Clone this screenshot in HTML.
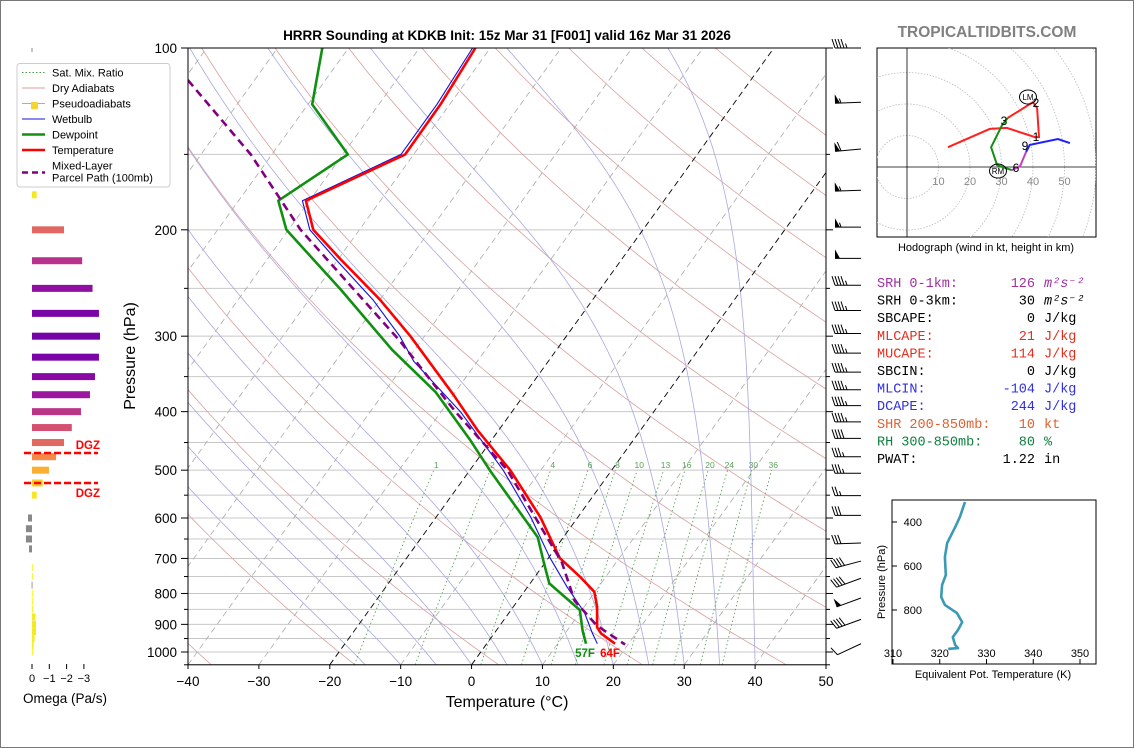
<!DOCTYPE html>
<html><head><meta charset="utf-8">
<style>
html,body{margin:0;padding:0;background:#fff;}
body{width:1134px;height:748px;overflow:hidden;position:relative;}
svg{position:absolute;left:0;top:0;font-family:"Liberation Sans","DejaVu Sans",sans-serif;}
.mono{font-family:"Liberation Mono","DejaVu Sans Mono",monospace;font-size:13.5px;}
</style></head>
<body>
<svg id="root" width="1134" height="748" viewBox="0 0 1134 748">
<rect x="0.5" y="0.5" width="1133" height="747" fill="#fff" stroke="#777"/>
<defs>
<clipPath id="mainclip"><rect x="188" y="48" width="638" height="616.8"/></clipPath>
<clipPath id="hodoclip"><rect x="877" y="48" width="219" height="189"/></clipPath>
<clipPath id="thclip"><rect x="892" y="500" width="204" height="164"/></clipPath>
</defs>
<text x="507" y="40" text-anchor="middle" font-size="13.5" font-weight="bold">HRRR Sounding at KDKB Init: 15z Mar 31 [F001] valid 16z Mar 31 2026</text>
<text x="987" y="37" text-anchor="middle" font-size="15.5" font-weight="bold" fill="#808080">TROPICALTIDBITS.COM</text>
<g id="omega"></g>
<g id="main"></g>
<g id="legend"></g>
<g id="hodo"></g>
<g id="params"></g>
<g id="theta"></g>
</svg>
<script>
// ===== data =====
const tempP=[100,124,150,179,200,224,261,300,375,430,500,598,699,751,795,841,910,932,969];
const tempT=[-62.1,-61.3,-61.2,-70.5,-66.5,-59.6,-50,-42,-30,-22.9,-14.3,-5.3,1.6,6.4,9.9,11.8,13.9,15.1,18.1];
const dewP=[100,124,150,179,200,251,316,371,445,500,646,711,770,852,922,969];
const dewT=[-83.7,-79.4,-69.3,-74.4,-70.3,-56.6,-43.2,-32.8,-23.1,-17.2,-3.6,-0.2,2.7,9.7,12.2,14.0];
const wbP=[100,124,150,179,200,224,261,300,330,400,500,600,697,781,860,930,969];
const wbT=[-62.5,-61.8,-61.8,-71,-67,-60.3,-51,-43.5,-39,-27.3,-15.3,-6.5,0.1,5.6,10.6,13.8,15.6];
const parP=[113,150,200,305,400,500,627,710,822,903,972];
const parT=[-99.4,-83,-68.3,-43.1,-28,-14.7,-3.75,2.3,8.0,13.6,19.6];
const mixW=[1,2,4,6,8,10,13,16,20,24,30,36];
const isoT=[-120,-110,-100,-90,-80,-70,-60,-50,-40,-30,-20,-10,0,10,20,30,40,50];
const dryT0=[-40,-20,0,20,40,60,80,100,120,140,160,180,200];
const moistT0=[-15,-10,-5,0,5,10,15,20,25,30,35,40];
const xTicks=[-40,-30,-20,-10,0,10,20,30,40,50];
const yTicks=[100,200,300,400,500,600,700,800,900,1000];
const barbP=[100,123,147,172,198,223,247,272,297,320,344,368,391,416,443,475,506,551,594,660,707,755,814,883,969];
const barbSpd=[45,55,60,55,55,50,45,45,45,45,45,45,45,45,40,35,35,25,30,30,40,40,50,40,10];
const barbDir=[270,268,265,268,270,270,270,270,270,270,270,270,270,270,270,270,270,270,270,268,255,250,250,250,245];
const omegaP=[125,175,200,225,250,275,300,325,350,375,400,425,450,475,500,525,550,600,625,650,675,725,750,775,800,825,850,875,900,925,950,975,1000];
const omegaV=[-0.3,-0.27,-1.85,-2.9,-3.5,-3.87,-3.93,-3.87,-3.64,-3.35,-2.83,-2.3,-1.85,-1.39,-0.98,-0.62,-0.27,0.23,0.35,0.35,0.17,-0.03,-0.02,0.02,-0.02,-0.03,-0.05,-0.2,-0.23,-0.23,-0.15,-0.1,-0.05];
const hodoRedU=[13,26.3,31.7,40.6,41.9,41.3,40,32];
const hodoRedV=[6.3,12.1,12.4,9.5,9.5,18.7,20.6,15.6];
const hodoGreenU=[32,30.2,26.7,28.6,33.3];
const hodoGreenV=[15.6,13.3,6.3,0.6,-1];
const hodoPurpU=[33.3,35.9,37.8];
const hodoPurpV=[-1,0.3,4.8];
const hodoBlueU=[37.8,39,47.9,51.7];
const hodoBlueV=[4.8,7,8.9,7.6];
const thetaP=[309,377,423,495,559,641,686,741,777,814,855,891,923,959,973,977];
const thetaE=[325.4,324.3,323.3,321.6,321.1,321.3,320.5,320.3,321.1,323.7,324.8,323.9,322.8,323.3,323.9,321.8];
const thXTicks=[310,320,330,340,350];
const thYTicks=[400,600,800];

// ===== helpers =====
const NS="http://www.w3.org/2000/svg";
function mk(tag,attrs,parent){const e=document.createElementNS(NS,tag);for(const k in attrs)e.setAttribute(k,attrs[k]);parent.appendChild(e);return e;}
function Y(p){return 48+604*Math.log10(p/100);}
function X(T,p){return 188+(T+40)*7.089+(664.8-Y(p))*0.72;}
function pts(a){return a.map(q=>q[0].toFixed(1)+','+q[1].toFixed(1)).join(' ');}

const main=document.getElementById('main');
const clipG=mk('g',{'clip-path':'url(#mainclip)'},main);



for(let p=100;p<=1050;p+=50){
  const l=mk('line',{x1:188,x2:826,y1:Y(p),y2:Y(p),stroke:'#c8c8c8','stroke-width':1},clipG);
  
  
}
dryT0.forEach(t0=>{
  const th=t0+273.15;
  const a=[];for(let p=1050;p>=100;p-=10){a.push([X(th*Math.pow(p/1000,0.286)-273.15,p),Y(p)]);}
  const l=mk('polyline',{points:pts(a),fill:'none',stroke:'#d9a0a0','stroke-width':0.8},clipG);
  
  
});
function es(Tc){return 6.112*Math.exp(17.67*Tc/(Tc+243.5));}
moistT0.forEach(t0=>{
  let T=t0+273.15;const a=[];
  for(let p=1050;p>=100;p-=2){
    a.push([X(T-273.15,p),Y(p)]);
    const e=es(T-273.15);const rs=0.622*e/(p-e);
    const dTdp=(287*T+2.501e6*rs)/(p*(1005+2.501e6*2.501e6*rs*0.622/(287*T*T)));
    T-=dTdp*2;
  }
  const l=mk('polyline',{points:pts(a),fill:'none',stroke:'#a8a8e0','stroke-width':0.8},clipG);
  
  
});
isoT.forEach(t=>{
  const blk=(t===0||t===-20);
  const l=mk('line',{x1:X(t,1050),y1:Y(1050),x2:X(t,100),y2:Y(100),stroke:blk?'#000':'#aaa','stroke-width':blk?0.9:0.8,'stroke-dasharray':'6,4'},clipG);
  
  
});
function tdFromW(w,p){const e=w*p/(622+w);const L=Math.log(e/6.112);return 243.5*L/(17.67-L);}
mixW.forEach(w=>{
  const a=[];for(let p=1050;p>=500;p-=10)a.push([X(tdFromW(w,p),p),Y(p)]);
  const l=mk('polyline',{points:pts(a),fill:'none',stroke:'#4a9a4a','stroke-width':0.8,'stroke-dasharray':'1.5,2.5'},clipG);
  
  
  const t=mk('text',{x:X(tdFromW(w,489),489),y:468,'font-size':8.5,fill:'#5aa05a','text-anchor':'middle'},clipG);
  t.textContent=w;
  
  
});
function prof(P,T,color,w,dash,name){
  const a=P.map((p,i)=>[X(T[i],p),Y(p)]);
  const at={points:pts(a),fill:'none',stroke:color,'stroke-width':w,'stroke-linejoin':'round'};
  if(dash)at['stroke-dasharray']=dash;
  const l=mk('polyline',at,clipG);
  
  
}
prof(wbP,wbT,'#1010e0',1.1,null,'wetbulb-line');
prof(dewP,dewT,'#109010',2.6,null,'dewpoint-line');
prof(tempP,tempT,'#ff0000',2.6,null,'temperature-line');
prof(parP,parT,'#800080',2.6,'8,5','parcel-path-line');
const sl1=mk('text',{x:585,y:657,'font-size':11.5,'font-weight':'bold',fill:'#109010','text-anchor':'middle'},main);
sl1.textContent='57F';


const sl2=mk('text',{x:610,y:657,'font-size':11.5,'font-weight':'bold',fill:'#ff0000','text-anchor':'middle'},main);
sl2.textContent='64F';



const fr=mk('rect',{x:188,y:48,width:638,height:616.8,fill:'none',stroke:'#000','stroke-width':1},main);


xTicks.forEach(t=>{
  const x=188+(t+40)*7.089;
  const l=mk('line',{x1:x,x2:x,y1:664.8,y2:669,stroke:'#000'},main);
  
  
  const tx=mk('text',{x:x,y:686,'font-size':13.5,'text-anchor':'middle'},main);
  tx.textContent=(t<0?'\u2212'+(-t):t);
  
  
});
for(let p=100;p<=1050;p+=50){
  const major=yTicks.indexOf(p)>=0;
  const l=mk('line',{x1:major?181:184,x2:188,y1:Y(p),y2:Y(p),stroke:'#000'},main);
  
  
  const r=mk('line',{x1:826,x2:major?833:830,y1:Y(p),y2:Y(p),stroke:'#000'},main);
  
  
}
yTicks.forEach(p=>{
  const tx=mk('text',{x:177,y:Y(p)+5,'font-size':13.5,'text-anchor':'end'},main);
  tx.textContent=p;
  
  
});
const xt=mk('text',{x:507,y:707,'font-size':16,'text-anchor':'middle'},main);
xt.textContent='Temperature (\u00B0C)';


const yt=mk('text',{x:0,y:0,'font-size':16,'text-anchor':'middle',transform:'translate(135,356) rotate(-90)'},main);
yt.textContent='Pressure (hPa)';



barbP.forEach((p,i)=>{
  const g=mk('g',{},main);
  
  
  const bx=861,by=Y(p);const L=26;
  const th=barbDir[i]*Math.PI/180;
  const dx=Math.sin(th),dy=-Math.cos(th);
  const tx=bx+L*dx,ty=by+L*dy;
  mk('line',{x1:bx,y1:by,x2:tx,y2:ty,stroke:'#000','stroke-width':1},g);
  const px=-dy,py=dx;
  let s=barbSpd[i];let pos=0;
  const nf=Math.floor(s/50);s-=nf*50;const nb=Math.floor(s/10);s-=nb*10;const nh=s>=5?1:0;
  for(let k=0;k<nf;k++){
    const ax=tx-dx*pos,ay=ty-dy*pos;
    const cx=tx-dx*(pos+5),cy=ty-dy*(pos+5);
    mk('polygon',{points:pts([[ax,ay],[ax+px*9,ay+py*9],[cx,cy]]),fill:'#000'},g);
    pos+=6;
  }
  for(let k=0;k<nb;k++){
    const ax=tx-dx*pos,ay=ty-dy*pos;
    mk('line',{x1:ax,y1:ay,x2:ax+px*9+dx*3,y2:ay+py*9+dy*3,stroke:'#000','stroke-width':1},g);
    pos+=3;
  }
  if(nh){
    if(nf+nb===0)pos=3;
    const ax=tx-dx*pos,ay=ty-dy*pos;
    mk('line',{x1:ax,y1:ay,x2:ax+px*4.5+dx*1.5,y2:ay+py*4.5+dy*1.5,stroke:'#000','stroke-width':1},g);
  }
});

// ===== omega panel =====
const om=document.getElementById('omega');
const plasma=[[0,[240,249,33]],[0.15,[252,206,37]],[0.3,[248,149,64]],[0.45,[225,100,98]],[0.6,[204,71,120]],[0.72,[177,42,144]],[0.85,[140,10,165]],[1,[100,0,168]]];
function cmap(v){v=Math.max(0,Math.min(1,v));for(let i=1;i<plasma.length;i++){if(v<=plasma[i][0]){const a=plasma[i-1],b=plasma[i];const f=(v-a[0])/(b[0]-a[0]);const c=a[1].map((x,j)=>Math.round(x+(b[1][j]-x)*f));return 'rgb('+c.join(',')+')';}}return 'rgb(100,0,168)';}
const OX0=32,OS=17.3;
omegaP.forEach((p,i)=>{
  const v=omegaV[i];const y=Y(p);
  const x1=OX0,x2=OX0-v*OS;
  const col=v>0?'#888':cmap(-v/4.2);
  const r=mk('rect',{x:Math.min(x1,x2),y:y-3.5,width:Math.max(0.8,Math.abs(x2-x1)),height:7,fill:col},om);
  
  
});
[[453],[483]].forEach((a,i)=>{
  const l=mk('line',{x1:24,x2:98,y1:a[0],y2:a[0],stroke:'#ff0000','stroke-width':2.5,'stroke-dasharray':'7,3'},om);
  
  
});
const d1=mk('text',{x:100,y:449,'font-size':11.5,'font-weight':'bold',fill:'#ff0000','text-anchor':'end'},om);
d1.textContent='DGZ';


const d2=mk('text',{x:100,y:497,'font-size':11.5,'font-weight':'bold',fill:'#ff0000','text-anchor':'end'},om);
d2.textContent='DGZ';


[0,-1,-2,-3].forEach(v=>{
  const x=OX0-v*OS;
  const l=mk('line',{x1:x,x2:x,y1:664,y2:669,stroke:'#000'},om);
  
  
  const t=mk('text',{x:x,y:682,'font-size':11,'text-anchor':'middle'},om);
  t.textContent=v===0?'0':'\u2212'+(-v);
  
  
});
const ot=mk('text',{x:23,y:703,'font-size':13.5},om);
ot.textContent='Omega (Pa/s)';


const omt=mk('line',{x1:32,x2:32,y1:48,y2:52,stroke:'#888'},om);



// ===== legend =====
const lg=document.getElementById('legend');
const lb=mk('rect',{x:17,y:63.5,width:153,height:123.5,rx:3,fill:'#fff','fill-opacity':0.85,stroke:'#ccc'},lg);


const legItems=[['Sat. Mix. Ratio','#4a9a4a',1,'1.5,2'],['Dry Adiabats','#d9a0a0',1,null],['Pseudoadiabats','#a8a8e0',1,null],['Wetbulb','#1010e0',1,null],['Dewpoint','#109010',2.6,null],['Temperature','#ff0000',2.6,null],['Mixed-Layer','#800080',2.6,'6,4']];
legItems.forEach((it,i)=>{
  const y=72.5+i*15.5;
  const g=mk('g',{},lg);
  
  
  const ly=i===6?y+7:y;
  const at={x1:22,x2:45,y1:ly,y2:ly,stroke:it[1],'stroke-width':it[2]};
  if(it[3])at['stroke-dasharray']=it[3];
  mk('line',at,g);
  const t=mk('text',{x:52,y:y+4,'font-size':11},g);
  t.textContent=it[0];
  if(i===6){const t2=mk('text',{x:52,y:y+16,'font-size':11},g);t2.textContent='Parcel Path (100mb)';}
});
const ysq=mk('rect',{x:31,y:102,width:7,height:7,fill:'#f5d535'},lg);



// ===== hodograph =====
const hd=document.getElementById('hodo');
const HX=907,HY=167,HS=3.15;
const hbox=mk('rect',{x:877,y:48,width:219,height:189,fill:'#fff',stroke:'#000'},hd);


const hc=mk('g',{'clip-path':'url(#hodoclip)'},hd);


for(let r=10;r<=90;r+=10){
  const c=mk('circle',{cx:HX,cy:HY,r:r*HS,fill:'none',stroke:'#bbb','stroke-width':0.8,'stroke-dasharray':'1.5,1.5'},hc);
  
  
}
const ha1=mk('line',{x1:877,x2:1096,y1:HY,y2:HY,stroke:'#000','stroke-width':0.8},hc);


const ha2=mk('line',{x1:HX,x2:HX,y1:48,y2:237,stroke:'#000','stroke-width':0.8},hc);


[10,20,30,40,50].forEach(v=>{
  const t=mk('text',{x:HX+v*HS,y:185,'font-size':11,fill:'#888','text-anchor':'middle'},hc);
  t.textContent=v;
  
  
});
function htrace(U,V,col,name){
  const a=U.map((u,i)=>[HX+u*HS,HY-V[i]*HS]);
  const l=mk('polyline',{points:pts(a),fill:'none',stroke:col,'stroke-width':2},hc);
  
  
}
htrace(hodoRedU,hodoRedV,'#ff2020','hodograph-0-3km');
htrace(hodoGreenU,hodoGreenV,'#109010','hodograph-3-6km');
htrace(hodoPurpU,hodoPurpV,'#c040c0','hodograph-6-9km');
htrace(hodoBlueU,hodoBlueV,'#2020ff','hodograph-9km-plus');
[['1',1036,141],['2',1036,107],['3',1004,125],['6',1016,172],['9',1025,150]].forEach(a=>{
  const t=mk('text',{x:a[1],y:a[2],'font-size':12,'text-anchor':'middle'},hc);
  t.textContent=a[0];
  
  
});
[['LM',1028,97],['RM',998,171]].forEach(a=>{
  const c=mk('ellipse',{cx:a[1],cy:a[2],rx:8.5,ry:7,fill:'none',stroke:'#000'},hc);
  
  
  const t=mk('text',{x:a[1],y:a[2]+3,'font-size':8,'text-anchor':'middle'},hc);
  t.textContent=a[0];
  
  
});
const hcap=mk('text',{x:986,y:251,'font-size':11,'text-anchor':'middle'},hd);
hcap.textContent='Hodograph (wind in kt, height in km)';



// ===== parameters =====
const pr=document.getElementById('params');
const rows=[['SRH 0-1km:','126','m\u00B2s\u207B\u00B2','#a030a0'],['SRH 0-3km:','30','m\u00B2s\u207B\u00B2','#000'],['SBCAPE:','0','J/kg','#000'],['MLCAPE:','21','J/kg','#e03020'],['MUCAPE:','114','J/kg','#e03020'],['SBCIN:','0','J/kg','#000'],['MLCIN:','-104','J/kg','#3030e0'],['DCAPE:','244','J/kg','#3030e0'],['SHR 200-850mb:','10','kt','#e06030'],['RH 300-850mb:','80','%','#108040'],['PWAT:','1.22','in','#000']];
rows.forEach((r,i)=>{
  const y=287+i*17.6;
  const g=mk('g',{fill:r[3],'class':'mono'},pr);
  
  
  const a=mk('text',{x:877,y:y},g);a.textContent=r[0];
  const b=mk('text',{x:1035,y:y,'text-anchor':'end'},g);b.textContent=r[1];
  const c=mk('text',{x:1044,y:y,'font-style':i<2?'italic':'normal'},g);c.textContent=r[2];
});

// ===== theta-e =====
const te=document.getElementById('theta');
function TX(t){return 893+(t-310)*4.675;}
function TY(p){return 500+(p-300)*0.22;}
const tb=mk('rect',{x:892,y:500,width:204,height:164,fill:'#fff',stroke:'#000'},te);


const tcl=mk('g',{'clip-path':'url(#thclip)'},te);


const tl=mk('polyline',{points:pts(thetaP.map((p,i)=>[TX(thetaE[i]),TY(p)])),fill:'none',stroke:'#3a9ab5','stroke-width':2.6,'stroke-linejoin':'round'},tcl);


thXTicks.forEach(t=>{
  const l=mk('line',{x1:TX(t),x2:TX(t),y1:664,y2:659,stroke:'#000'},te);
  
  
  const s=mk('text',{x:TX(t),y:657,'font-size':11,'text-anchor':'middle'},te);
  s.textContent=t;
  
  
});
thYTicks.forEach(p=>{
  const l=mk('line',{x1:892,x2:897,y1:TY(p),y2:TY(p),stroke:'#000'},te);
  
  
  const s=mk('text',{x:922,y:TY(p)+4,'font-size':11,'text-anchor':'end'},te);
  s.textContent=p;
  
  
});
const tt=mk('text',{x:993,y:678,'font-size':11,'text-anchor':'middle'},te);
tt.textContent='Equivalent Pot. Temperature (K)';


const ty2=mk('text',{x:0,y:0,'font-size':11,'text-anchor':'middle',transform:'translate(885,582) rotate(-90)'},te);
ty2.textContent='Pressure (hPa)';


</script>
</body></html>
